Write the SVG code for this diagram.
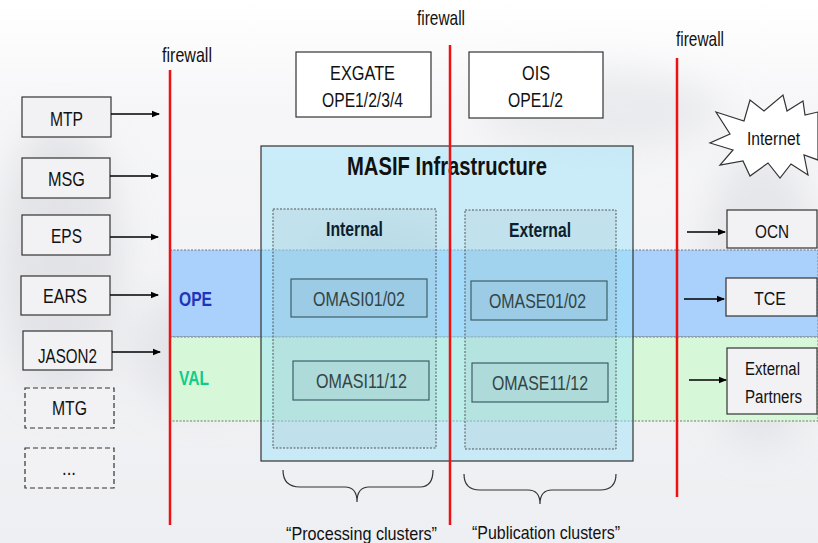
<svg xmlns="http://www.w3.org/2000/svg" width="818" height="543" viewBox="0 0 818 543">
<defs>
<linearGradient id="bg" x1="0" y1="0" x2="0" y2="1">
<stop offset="0" stop-color="#ffffff"/>
<stop offset="0.2" stop-color="#f6f6f8"/>
<stop offset="1" stop-color="#eeeff2"/>
</linearGradient>
<filter id="blur" x="-50%" y="-50%" width="200%" height="200%"><feGaussianBlur stdDeviation="18"/></filter>
<marker id="arr" markerWidth="8" markerHeight="8" refX="7" refY="4" orient="auto" markerUnits="userSpaceOnUse">
<path d="M0,0.8 L8,4 L0,7.2 z" fill="#000"/>
</marker>
<style>
.t{font-family:"Liberation Sans",Arial,sans-serif;fill:#111;}
.l{font-size:21px;}
.r{font-size:18px;}
.box{fill:#f2f2f5;stroke:#333;stroke-width:1.2;}
.dbox{fill:#f2f2f5;stroke:#333;stroke-width:1.2;stroke-dasharray:5,3;}
.wbox{fill:#ffffff;stroke:#333;stroke-width:1.2;}
.fw{stroke:#ee1111;stroke-width:2.5;}
.conn{stroke:#000;stroke-width:1.5;fill:none;marker-end:url(#arr);}
.om{fill:rgba(120,160,170,0.12);stroke:#3d5f6a;stroke-width:1.2;}
.omt{font-size:21px;fill:#344;}
.grp{fill:rgba(150,170,175,0.15);stroke:#555;stroke-width:1;stroke-dasharray:2,1.5;}
.brace{fill:none;stroke:#333;stroke-width:1.2;}
</style>
</defs>
<rect width="818" height="543" fill="url(#bg)"/>
<g filter="url(#blur)" opacity="0.6">
<ellipse cx="60" cy="260" rx="60" ry="140" fill="#d8d9de"/>
<ellipse cx="200" cy="350" rx="70" ry="60" fill="#dcdde2"/>
<ellipse cx="600" cy="110" rx="120" ry="40" fill="#e2e3e7"/>
<ellipse cx="760" cy="300" rx="60" ry="150" fill="#dcdde2"/>
<ellipse cx="380" cy="280" rx="80" ry="60" fill="#e0e1e5"/>
</g>

<g id="bands">
<rect x="170" y="250" width="648" height="87" fill="#a9d1fb" stroke="#777" stroke-width="1" stroke-dasharray="2,1.5"/>
<rect x="170" y="337" width="648" height="84" fill="#d6f8d9" stroke="#777" stroke-width="1" stroke-dasharray="2,1.5"/>
<text class="t" x="179" y="306" font-size="21" font-weight="bold" textLength="33" lengthAdjust="spacingAndGlyphs" style="fill:#2233bb">OPE</text>
<text class="t" x="179" y="385" font-size="21" font-weight="bold" textLength="30" lengthAdjust="spacingAndGlyphs" style="fill:#11cc88">VAL</text>
</g>

<g id="masif">
<rect x="261" y="146" width="372" height="315" fill="rgba(160,228,250,0.5)" stroke="#333" stroke-width="1.2"/>
<text class="t" x="347" y="175" font-size="26" font-weight="bold" textLength="200" lengthAdjust="spacingAndGlyphs">MASIF Infrastructure</text>
</g>

<g id="internal">
<rect class="grp" x="273" y="209" width="163" height="239"/>
<text class="t" x="326" y="236" font-size="21" font-weight="bold" textLength="57" lengthAdjust="spacingAndGlyphs" style="fill:#0d1e2e">Internal</text>
</g>
<g id="external">
<rect class="grp" x="465" y="210" width="151" height="239"/>
<text class="t" x="509" y="237" font-size="21" font-weight="bold" textLength="62" lengthAdjust="spacingAndGlyphs" style="fill:#0d1e2e">External</text>
</g>

<g id="omasi0102">
<rect class="om" x="291" y="279" width="136" height="38"/>
<text class="t omt" x="313" y="306" textLength="92" lengthAdjust="spacingAndGlyphs">OMASI01/02</text>
</g>
<g id="omase0102">
<rect class="om" x="471" y="281" width="136" height="39"/>
<text class="t omt" x="489" y="308" textLength="97" lengthAdjust="spacingAndGlyphs">OMASE01/02</text>
</g>
<g id="omasi1112">
<rect class="om" x="293" y="361" width="136" height="39"/>
<text class="t omt" x="316" y="388" textLength="91" lengthAdjust="spacingAndGlyphs">OMASI11/12</text>
</g>
<g id="omase1112">
<rect class="om" x="472" y="363" width="136" height="39"/>
<text class="t omt" x="492" y="390" textLength="96" lengthAdjust="spacingAndGlyphs">OMASE11/12</text>
</g>

<g id="mtp"><rect class="box" x="22" y="97" width="89" height="40"/><text class="t l" x="50" y="126" textLength="33" lengthAdjust="spacingAndGlyphs">MTP</text></g>
<g id="msg"><rect class="box" x="22" y="158" width="88" height="40"/><text class="t l" x="48" y="186" textLength="37" lengthAdjust="spacingAndGlyphs">MSG</text></g>
<g id="eps"><rect class="box" x="22" y="215" width="88" height="40"/><text class="t l" x="51" y="243" textLength="31" lengthAdjust="spacingAndGlyphs">EPS</text></g>
<g id="ears"><rect class="box" x="21" y="276" width="89" height="39"/><text class="t l" x="43" y="303" textLength="44" lengthAdjust="spacingAndGlyphs">EARS</text></g>
<g id="jason2"><rect class="box" x="23" y="331" width="89" height="39"/><text class="t l" x="38" y="363" textLength="59" lengthAdjust="spacingAndGlyphs">JASON2</text></g>
<g id="mtg"><rect class="dbox" x="25" y="388" width="89" height="40"/><text class="t l" x="52" y="415" textLength="35" lengthAdjust="spacingAndGlyphs">MTG</text></g>
<g id="more"><rect class="dbox" x="25" y="448" width="89" height="40"/><text class="t l" x="62" y="475" textLength="14" lengthAdjust="spacingAndGlyphs">...</text></g>

<g id="exgate"><rect class="wbox" x="296" y="52" width="135" height="65"/>
<text class="t l" x="330" y="80" textLength="65" lengthAdjust="spacingAndGlyphs">EXGATE</text>
<text class="t l" x="322" y="107" textLength="81" lengthAdjust="spacingAndGlyphs">OPE1/2/3/4</text></g>
<g id="ois"><rect class="wbox" x="469" y="52" width="134" height="66"/>
<text class="t l" x="522" y="80" textLength="28" lengthAdjust="spacingAndGlyphs">OIS</text>
<text class="t l" x="508" y="107" textLength="55" lengthAdjust="spacingAndGlyphs">OPE1/2</text></g>

<g id="internet">
<polygon points="716,112 744,121 750,100 764,111 783,95 787,111 803,101 805,115 818,112 818,160 804,155 808,175 791,164 780,178 768,163 750,176 743,161 720,165 733,150 710,143 730,134" fill="#ffffff" stroke="#333" stroke-width="1.2"/>
<text class="t r" x="747" y="145" textLength="53" lengthAdjust="spacingAndGlyphs">Internet</text>
</g>

<g id="ocn"><rect class="box" x="727" y="210" width="90" height="38"/><text class="t r" x="755" y="238" textLength="34" lengthAdjust="spacingAndGlyphs">OCN</text></g>
<g id="tce"><rect class="box" x="726" y="278" width="91" height="38"/><text class="t r" x="754" y="305" textLength="32" lengthAdjust="spacingAndGlyphs">TCE</text></g>
<g id="partners"><rect class="box" x="727" y="348" width="90" height="66"/>
<text class="t r" x="745" y="375" textLength="55" lengthAdjust="spacingAndGlyphs">External</text>
<text class="t r" x="745" y="403" textLength="57" lengthAdjust="spacingAndGlyphs">Partners</text></g>

<g id="connectors">
<line class="conn" x1="111" y1="114" x2="159" y2="114"/>
<line class="conn" x1="110" y1="176" x2="158" y2="176"/>
<line class="conn" x1="110" y1="237" x2="158" y2="237"/>
<line class="conn" x1="110" y1="295" x2="158" y2="295"/>
<line class="conn" x1="112" y1="352" x2="160" y2="352"/>
<line class="conn" x1="687" y1="232" x2="725" y2="232"/>
<line class="conn" x1="684" y1="299" x2="724" y2="299"/>
<line class="conn" x1="689" y1="380" x2="726" y2="380"/>
</g>

<g id="firewalls">
<line class="fw" x1="170" y1="70" x2="170" y2="525"/>
<line class="fw" x1="450" y1="45" x2="450" y2="525"/>
<line class="fw" x1="677" y1="58" x2="677" y2="497"/>
<text class="t l" x="162" y="62" textLength="50" lengthAdjust="spacingAndGlyphs">firewall</text>
<text class="t l" x="417" y="25" textLength="48" lengthAdjust="spacingAndGlyphs">firewall</text>
<text class="t l" x="676" y="46" textLength="48" lengthAdjust="spacingAndGlyphs">firewall</text>
</g>

<g id="braces">
<path class="brace" d="M283,470 Q283,487 300,487 L345,487 Q357,487 357,502 Q357,487 369,487 L420,487 Q433,487 433,470"/>
<path class="brace" d="M464,474 Q464,490 480,490 L528,490 Q540,490 540,504 Q540,490 552,490 L600,490 Q616,490 616,474"/>
<text class="t" x="286" y="540" font-size="19" textLength="151" lengthAdjust="spacingAndGlyphs">“Processing clusters”</text>
<text class="t" x="472" y="539" font-size="19" textLength="148" lengthAdjust="spacingAndGlyphs">“Publication clusters”</text>
</g>
</svg>
